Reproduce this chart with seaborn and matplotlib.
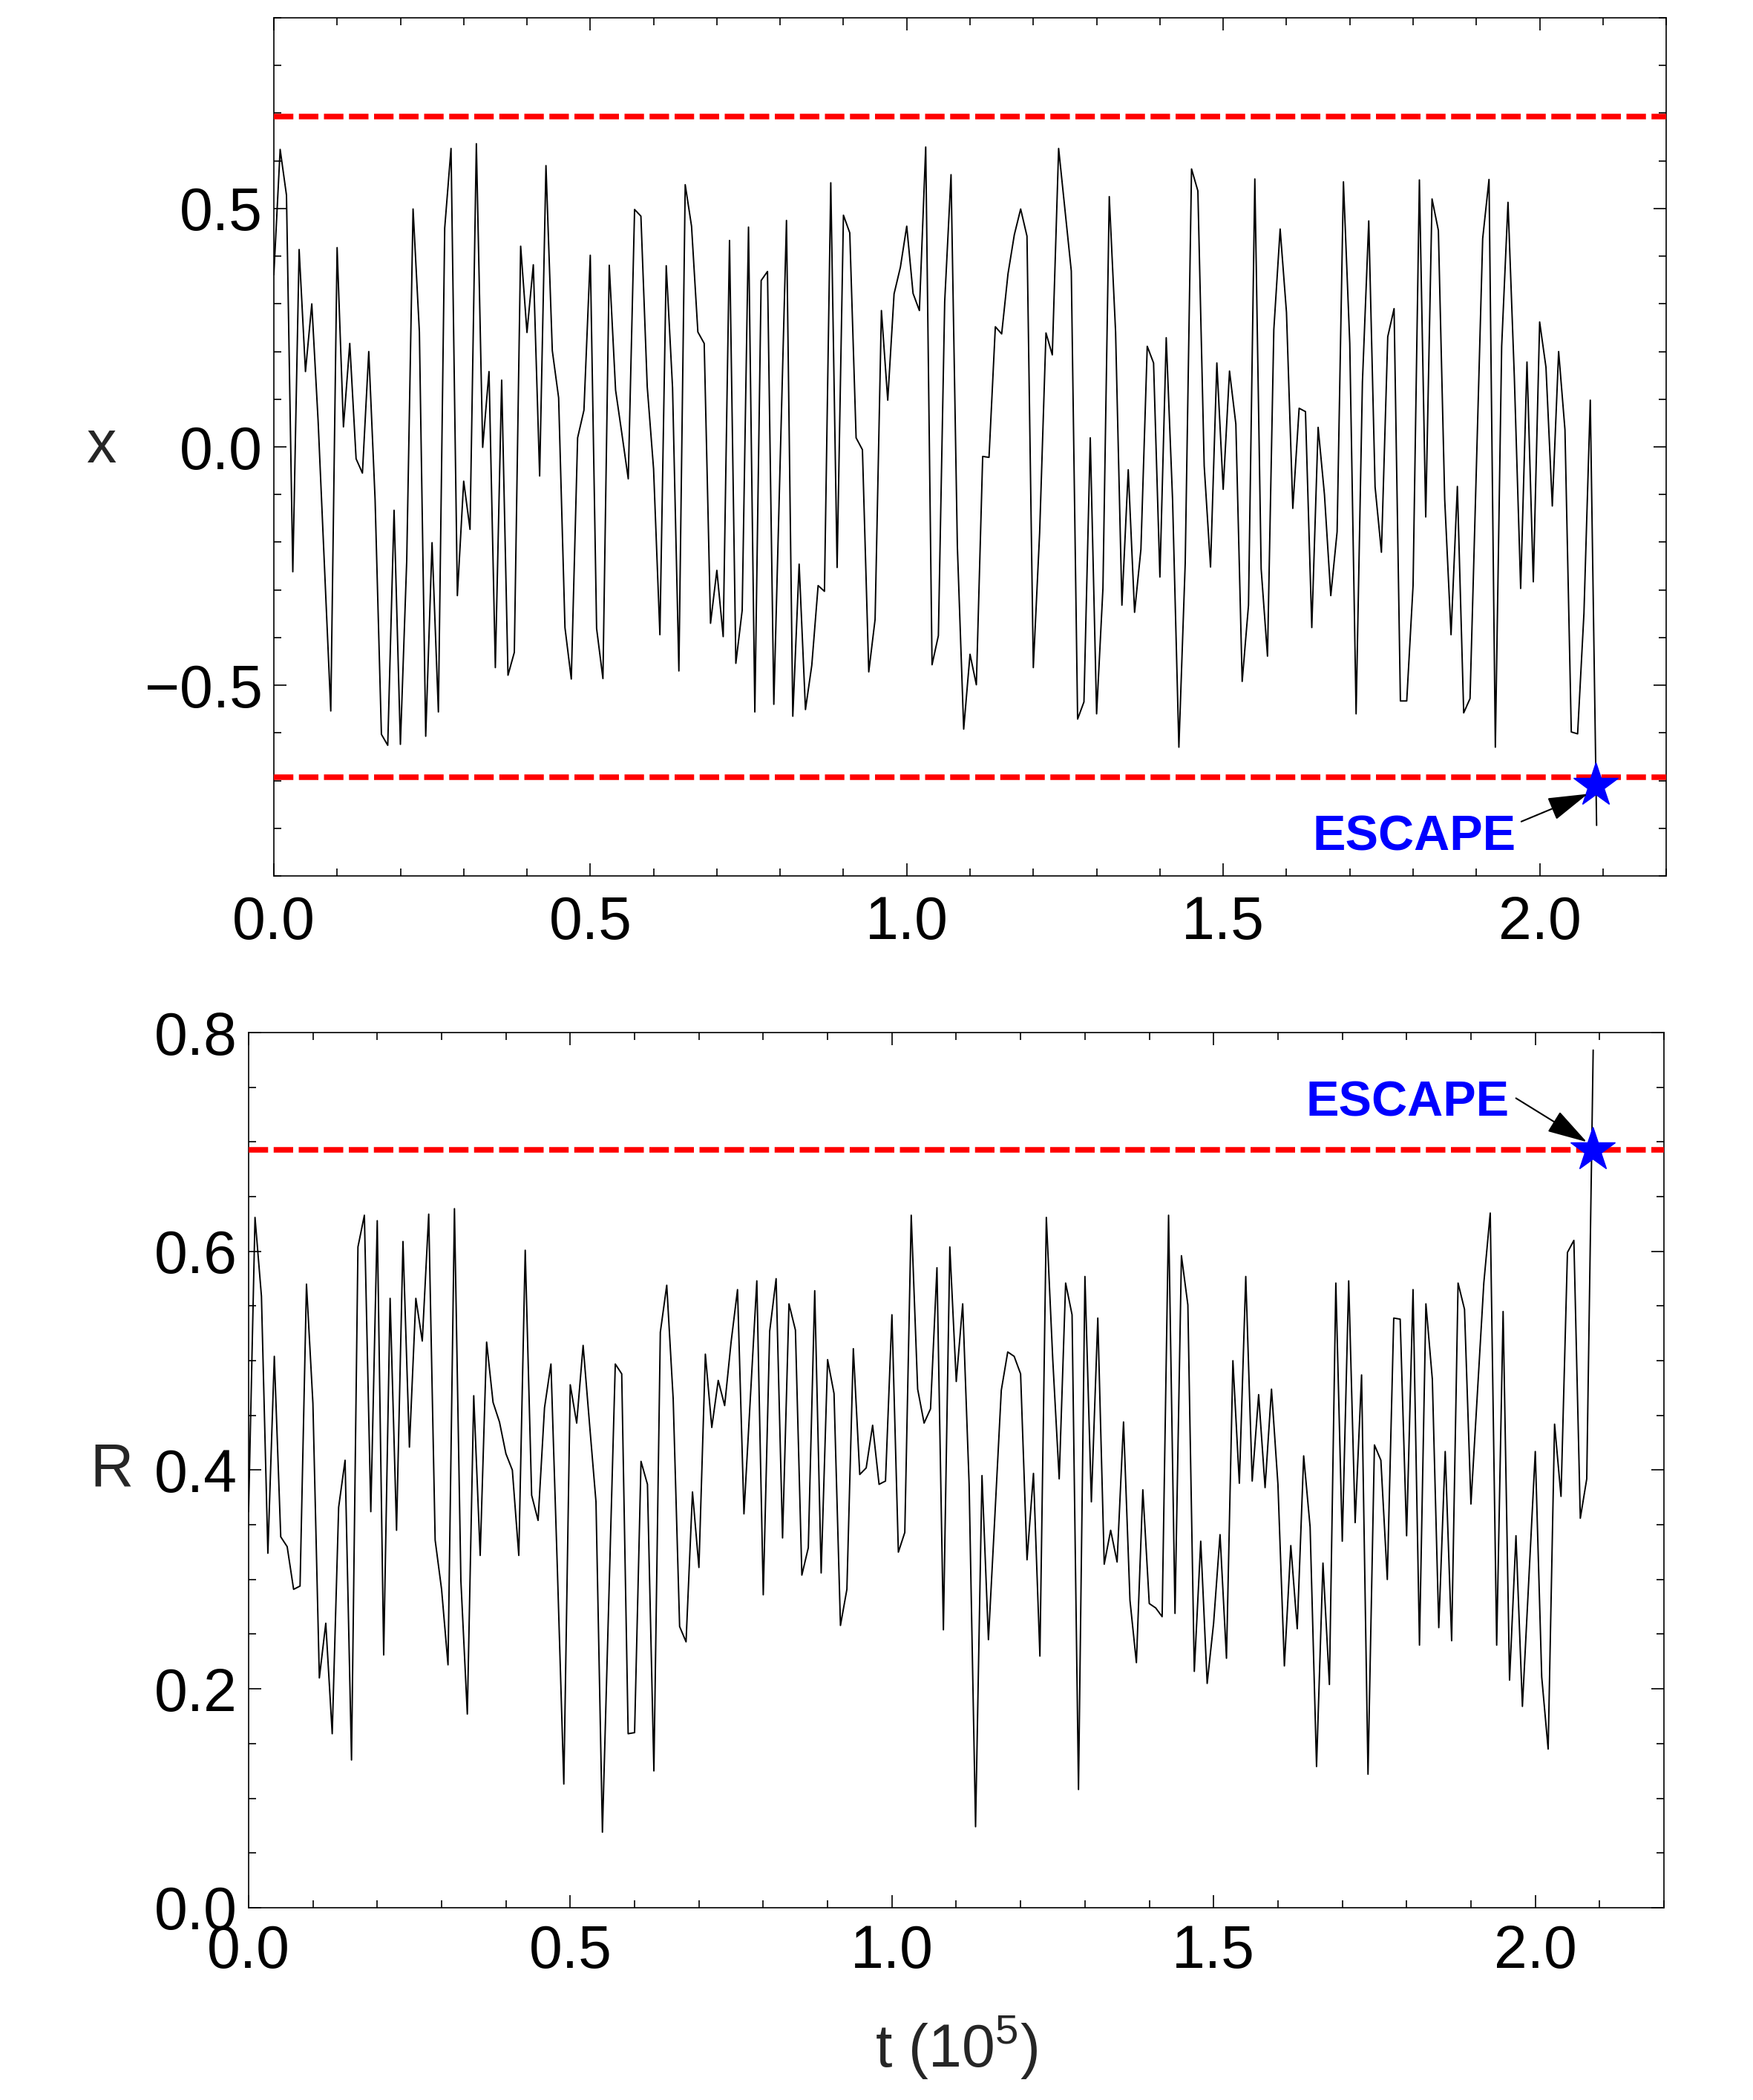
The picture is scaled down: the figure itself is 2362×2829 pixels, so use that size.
import numpy as np
import matplotlib
matplotlib.use("Agg")
import matplotlib.pyplot as plt
from matplotlib.ticker import MultipleLocator
import seaborn as sns

x_vals = [
    0.361, 0.624, 0.528, -0.262, 0.414, 0.158, 0.300, 0.054, -0.250, -0.554,
    0.418, 0.042, 0.217, -0.025, -0.055, 0.200, -0.110, -0.603, -0.626, -0.133,
    -0.624, -0.238, 0.499, 0.241, -0.607, -0.201, -0.556, 0.459, 0.626, -0.312,
    -0.072, -0.173, 0.636, -0.001, 0.158, -0.463, 0.140, -0.479, -0.431, 0.421,
    0.240, 0.382, -0.061, 0.590, 0.202, 0.103, -0.379, -0.487, 0.019, 0.077,
    0.402, -0.381, -0.486, 0.381, 0.119, 0.027, -0.067, 0.498, 0.484, 0.126,
    -0.046, -0.394, 0.380, 0.124, -0.470, 0.550, 0.463, 0.241, 0.217, -0.370,
    -0.259, -0.398, 0.433, -0.454, -0.343, 0.461, -0.556, 0.349, 0.368, -0.540,
    -0.032, 0.475, -0.565, -0.246, -0.551, -0.458, -0.291, -0.303, 0.554, -0.253,
    0.486, 0.449, 0.019, -0.006, -0.472, -0.362, 0.286, 0.098, 0.321, 0.377,
    0.463, 0.322, 0.286, 0.629, -0.457, -0.396, 0.305, 0.571, -0.209, -0.592,
    -0.435, -0.499, -0.020, -0.022, 0.252, 0.237, 0.363, 0.445, 0.499, 0.442,
    -0.463, -0.180, 0.239, 0.193, 0.626, 0.498, 0.369, -0.571, -0.535, 0.019,
    -0.560, -0.297, 0.525, 0.241, -0.332, -0.048, -0.347, -0.215, 0.211, 0.176,
    -0.273, 0.229, -0.110, -0.630, -0.244, 0.583, 0.537, -0.040, -0.252, 0.176,
    -0.089, 0.159, 0.048, -0.492, -0.332, 0.562, -0.256, -0.439, 0.246, 0.457,
    0.282, -0.129, 0.081, 0.074, -0.379, 0.041, -0.100, -0.312, -0.178, 0.556,
    0.217, -0.560, 0.136, 0.474, -0.084, -0.221, 0.231, 0.290, -0.533, -0.533,
    -0.291, 0.560, -0.147, 0.520, 0.454, -0.110, -0.394, -0.083, -0.558, -0.528,
    -0.046, 0.437, 0.561, -0.630, 0.211, 0.513, 0.147, -0.297, 0.178, -0.283,
    0.262, 0.167, -0.124, 0.200, 0.036, -0.598, -0.602, -0.349, 0.098, -0.794,
]

r_vals = [
    0.362, 0.631, 0.559, 0.324, 0.504, 0.339, 0.330, 0.291, 0.294, 0.570,
    0.461, 0.210, 0.260, 0.159, 0.366, 0.409, 0.135, 0.604, 0.633, 0.362,
    0.628, 0.231, 0.557, 0.345, 0.609, 0.421, 0.557, 0.518, 0.634, 0.336,
    0.291, 0.222, 0.639, 0.299, 0.177, 0.468, 0.322, 0.517, 0.462, 0.444,
    0.415, 0.400, 0.322, 0.601, 0.377, 0.354, 0.457, 0.497, 0.309, 0.113,
    0.478, 0.443, 0.514, 0.442, 0.371, 0.069, 0.283, 0.497, 0.488, 0.159,
    0.160, 0.408, 0.387, 0.125, 0.526, 0.569, 0.465, 0.257, 0.243, 0.380,
    0.311, 0.506, 0.439, 0.482, 0.459, 0.517, 0.565, 0.360, 0.466, 0.573,
    0.286, 0.527, 0.575, 0.338, 0.552, 0.528, 0.304, 0.329, 0.564, 0.306,
    0.501, 0.470, 0.258, 0.291, 0.511, 0.396, 0.402, 0.441, 0.387, 0.390,
    0.542, 0.325, 0.343, 0.633, 0.474, 0.443, 0.456, 0.585, 0.254, 0.604,
    0.481, 0.552, 0.387, 0.074, 0.395, 0.245, 0.358, 0.473, 0.508, 0.504,
    0.488, 0.318, 0.397, 0.230, 0.631, 0.501, 0.392, 0.571, 0.542, 0.108,
    0.577, 0.371, 0.539, 0.314, 0.345, 0.316, 0.444, 0.281, 0.224, 0.382,
    0.278, 0.274, 0.266, 0.633, 0.269, 0.596, 0.551, 0.216, 0.335, 0.205,
    0.260, 0.341, 0.228, 0.500, 0.388, 0.577, 0.390, 0.469, 0.384, 0.474,
    0.387, 0.221, 0.331, 0.255, 0.413, 0.348, 0.129, 0.315, 0.204, 0.571,
    0.335, 0.573, 0.352, 0.487, 0.122, 0.423, 0.409, 0.300, 0.539, 0.538,
    0.340, 0.565, 0.240, 0.552, 0.483, 0.256, 0.417, 0.244, 0.571, 0.547,
    0.369, 0.470, 0.571, 0.635, 0.240, 0.545, 0.208, 0.340, 0.184, 0.301,
    0.417, 0.211, 0.145, 0.442, 0.376, 0.599, 0.610, 0.356, 0.392, 0.784,
]

t_end = 2.09
t_x = np.linspace(0, t_end, len(x_vals))
t_r = np.linspace(0, t_end, len(r_vals))

umbral = 0.693
escape_x = (2.089, -0.71)
escape_r = (2.089, 0.693)

sns.set_theme(style="ticks")
plt.rcParams["font.family"] = ["Liberation Sans", "DejaVu Sans"]
plt.rcParams["mathtext.fontset"] = "custom"
plt.rcParams["mathtext.rm"] = "Liberation Sans"
plt.rcParams["axes.linewidth"] = 1.2

fig = plt.figure(figsize=(23.62, 28.29), dpi=100)
ax1 = fig.add_axes([0.1562, 0.5829, 0.7943, 0.4086])
ax2 = fig.add_axes([0.1418, 0.0916, 0.8074, 0.4167])

fs = 58

def estilo(ax, xpad):
    ax.tick_params(which="both", direction="in", top=True, right=True,
                   labelsize=fs, width=1.2, colors="black")
    ax.tick_params(which="major", length=12)
    ax.tick_params(which="minor", length=7)
    ax.tick_params(axis="x", pad=xpad)
    ax.tick_params(axis="y", pad=11)
    ax.xaxis.set_major_locator(MultipleLocator(0.5))
    ax.xaxis.set_minor_locator(MultipleLocator(0.1))
    ax.set_xlim(0, 2.2)
    for s in ax.spines.values():
        s.set_color("black")
        s.set_linewidth(1.2)

# panel superior: x(t)
sns.lineplot(x=t_x, y=x_vals, ax=ax1, color="black", lw=1.4,
             estimator=None, sort=False)
for y in (umbral, -umbral):
    ax1.axhline(y, color="red", lw=5.4, dashes=(3.5, 1.0), zorder=3)
ax1.set_ylim(-0.9, 0.9)
ax1.yaxis.set_major_locator(MultipleLocator(0.5))
ax1.yaxis.set_minor_locator(MultipleLocator(0.1))
estilo(ax1, 19)
ax1.set_ylabel("x", fontsize=fs, rotation=0, ha="center", va="center")
ax1.yaxis.set_label_coords(-0.124, 0.5)
ax1.set_xlabel("")
ax1.plot(*escape_x, marker="*", ms=45, color="blue", zorder=5)
ax1.text(1.802, -0.82, "ESCAPE", color="blue", fontsize=48,
         fontweight="bold", ha="center", va="center", zorder=6)
ax1.annotate("", xy=(2.076, -0.728), xytext=(1.971, -0.786),
             arrowprops=dict(arrowstyle="-|>,head_length=1.7,head_width=0.5",
                             mutation_scale=20, color="black", lw=1.5,
                             shrinkA=0, shrinkB=0), zorder=6)

# panel inferior: R(t)
sns.lineplot(x=t_r, y=r_vals, ax=ax2, color="black", lw=1.4,
             estimator=None, sort=False)
ax2.axhline(umbral, color="red", lw=5.4, dashes=(3.5, 1.0), zorder=3)
ax2.set_ylim(0, 0.8)
ax2.yaxis.set_major_locator(MultipleLocator(0.2))
ax2.yaxis.set_minor_locator(MultipleLocator(0.05))
estilo(ax2, 16)
ax2.set_ylabel("R", fontsize=fs, rotation=0, ha="center", va="center")
ax2.yaxis.set_label_coords(-0.0965, 0.5)
ax2.set_xlabel("t (10$^{5}$)", fontsize=fs, va="center")
ax2.xaxis.set_label_coords(0.5, -0.159)
ax2.plot(*escape_r, marker="*", ms=45, color="blue", zorder=5)
ax2.text(1.801, 0.735, "ESCAPE", color="blue", fontsize=48,
         fontweight="bold", ha="center", va="center", zorder=6)
ax2.annotate("", xy=(2.080, 0.700), xytext=(1.970, 0.740),
             arrowprops=dict(arrowstyle="-|>,head_length=1.7,head_width=0.5",
                             mutation_scale=20, color="black", lw=1.5,
                             shrinkA=0, shrinkB=0), zorder=6)

fig.savefig("out.png", dpi=100)
